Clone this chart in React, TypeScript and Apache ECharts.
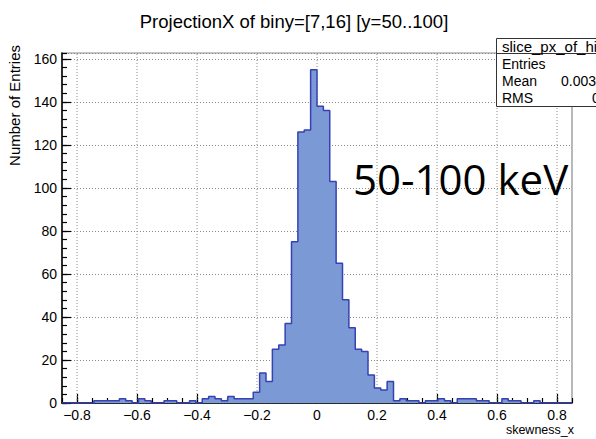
import React, { useEffect, useRef } from "react";
import * as echarts from "echarts";

// Histogram binning: 80 equal bins on [-0.85, 0.85]
const BIN_LOW = -0.85;
const BIN_HIGH = 0.85;

// Bin contents, left to right
const counts: number[] = [
  0, 0, 0, 0, 0, 1, 1, 1, 1, 2,
  1, 0, 2, 1, 0, 0, 1, 1, 0, 0,
  1, 0, 2, 3, 2, 1, 3, 2, 2, 2,
  5, 14, 10, 25, 27, 37, 75, 126, 127, 155,
  138, 136, 103, 65, 48, 35, 25, 24, 13, 7,
  6, 10, 1, 2, 1, 1, 0, 1, 1, 2,
  1, 0, 2, 2, 2, 1, 1, 0, 0, 2,
  1, 1, 0, 0, 1, 0, 0, 0, 0, 0,
];

const xMajorTicks: number[] = [-0.8, -0.6, -0.4, -0.2, 0, 0.2, 0.4, 0.6, 0.8];
const Y_MAX = 162.75;

const TITLE = "ProjectionX of biny=[7,16] [y=50..100]";
const X_TITLE = "skewness_x";
const Y_TITLE = "Number of Entries";
const HIST_NAME = "slice_px_of_hist";
const statLabels: string[] = ["Entries", "Mean", "RMS"];
const ANNOTATION = "50-100 keV";

const FONT = '"Liberation Sans", Arial, sans-serif';

export default function App() {
  const ref = useRef<HTMLDivElement>(null);

  useEffect(() => {
    if (!ref.current) return;
    const chart = echarts.init(ref.current, undefined, { renderer: "svg" });

    const binWidth = (BIN_HIGH - BIN_LOW) / counts.length;
    const stepData: number[][] = counts.map((c, i) => [BIN_LOW + i * binWidth, c]);
    stepData.push([BIN_HIGH, counts[counts.length - 1]]);

    // statistics of the histogram (bin centres weighted by content)
    let n = 0, sx = 0, sxx = 0;
    counts.forEach((c, i) => {
      const xc = BIN_LOW + (i + 0.5) * binWidth;
      n += c; sx += c * xc; sxx += c * xc * xc;
    });
    const mean = sx / n;
    const rms = Math.sqrt(sxx / n - mean * mean);

    const fmtX = (v: number) =>
      Math.abs(v) < 1e-9 ? "0" : (v < 0 ? "\u2212" : "") + Math.abs(v).toFixed(1);

    const axisBlack = { color: "#000", width: 1.5 };
    const tickStyle = { color: "#000", width: 1.2 };
    const gridDots = { color: "#8a8a8a", width: 1, type: [1, 2] as number[] };

    chart.setOption({
      animation: false,
      backgroundColor: "#fff",
      grid: {
        left: 62, top: 53, width: 510, height: 350,
        show: true, borderColor: "#8a8a8a", borderWidth: 1.2, backgroundColor: "#fff",
      },
      xAxis: [
        {
          type: "value", min: BIN_LOW, max: BIN_HIGH, position: "bottom",
          axisLine: { show: true, onZero: false, lineStyle: axisBlack },
          axisTick: { show: true, inside: true, length: 9, customValues: xMajorTicks, lineStyle: tickStyle },
          axisLabel: {
            customValues: xMajorTicks, formatter: fmtX, color: "#000",
            fontSize: 14, fontFamily: FONT, margin: 5,
          },
          splitLine: { show: false },
        },
        {
          type: "value", min: BIN_LOW, max: BIN_HIGH, interval: 0.05, position: "bottom",
          axisLine: { show: false, onZero: false },
          axisTick: { show: true, inside: true, length: 5, lineStyle: tickStyle },
          axisLabel: { show: false },
          splitLine: { show: false },
        },
      ],
      yAxis: [
        {
          type: "value", min: 0, max: Y_MAX, interval: 20, position: "left",
          axisLine: { show: true, onZero: false, lineStyle: axisBlack },
          axisTick: { show: true, inside: true, length: 9, lineStyle: tickStyle },
          axisLabel: { showMaxLabel: false, color: "#000", fontSize: 14, fontFamily: FONT, margin: 5 },
          splitLine: { show: true, lineStyle: gridDots },
        },
        {
          type: "value", min: 0, max: Y_MAX, interval: 4, position: "left",
          axisLine: { show: false, onZero: false },
          axisTick: { show: true, inside: true, length: 5, lineStyle: tickStyle },
          axisLabel: { show: false },
          splitLine: { show: false },
        },
      ],
      series: [
        {
          // vertical dotted grid lines at the major x ticks
          type: "custom",
          xAxisIndex: 0, yAxisIndex: 0, z: 1, silent: true,
          data: xMajorTicks.map((v) => [v, 0]),
          encode: { x: 0, y: 1 },
          renderItem: (_p: any, api: any) => {
            const x = api.value(0);
            const a = api.coord([x, 0]);
            const b = api.coord([x, Y_MAX]);
            return {
              type: "line",
              shape: { x1: a[0], y1: a[1], x2: b[0], y2: b[1] },
              style: { stroke: "#8a8a8a", lineWidth: 1, lineDash: [1, 2] },
            };
          },
        },
        {
          name: HIST_NAME,
          type: "line",
          xAxisIndex: 0, yAxisIndex: 0, z: 3,
          step: "end",
          symbol: "none",
          data: stepData,
          lineStyle: { color: "#3641b3", width: 1.5 },
          areaStyle: { color: "#7b9ad5", opacity: 1 },
        },
      ],
      graphic: [
        {
          type: "text", x: 294, y: 21, z: 100,
          style: { text: TITLE, font: `18.5px ${FONT}`, fill: "#000", align: "center", verticalAlign: "middle" },
        },
        {
          type: "text", x: 14, y: 45, rotation: Math.PI / 2, z: 100,
          style: { text: Y_TITLE, font: `15px ${FONT}`, fill: "#000", align: "right", verticalAlign: "middle" },
        },
        {
          type: "text", x: 574, y: 430, z: 100,
          style: { text: X_TITLE, font: `12.5px ${FONT}`, fill: "#000", align: "right", verticalAlign: "middle" },
        },
        {
          type: "text", x: 353, y: 178, z: 100,
          style: { text: ANNOTATION, font: `42px "Open Sans", sans-serif`, fill: "#000", align: "left", verticalAlign: "middle" },
        },
        {
          type: "group", z: 100,
          children: [
            {
              type: "rect", z: 100,
              shape: { x: 496.5, y: 38.5, width: 140, height: 68 },
              style: { fill: "#fff", stroke: "#333", lineWidth: 1 },
            },
            {
              type: "line", z: 101,
              shape: { x1: 496.5, y1: 53.5, x2: 640, y2: 53.5 },
              style: { stroke: "#333", lineWidth: 1 },
            },
            {
              type: "text", x: 502, y: 46, z: 101,
              style: { text: HIST_NAME, font: `15px ${FONT}`, fill: "#000", verticalAlign: "middle" },
            },
            ...statLabels.map((lab, i) => ({
              type: "text", x: 502, y: 64 + i * 17, z: 101,
              style: { text: lab, font: `14px ${FONT}`, fill: "#000", verticalAlign: "middle" },
            })),
            {
              type: "text", x: 561, y: 81, z: 101,
              style: { text: mean.toPrecision(4), font: `14px ${FONT}`, fill: "#000", verticalAlign: "middle" },
            },
            {
              type: "text", x: 592, y: 98, z: 101,
              style: { text: rms.toPrecision(4), font: `14px ${FONT}`, fill: "#000", verticalAlign: "middle" },
            },
          ],
        },
      ],
    });

    return () => chart.dispose();
  }, []);

  return (
    <div
      ref={ref}
      style={{ position: "fixed", left: 0, top: 0, width: 596, height: 439, background: "#fff" }}
    />
  );
}
